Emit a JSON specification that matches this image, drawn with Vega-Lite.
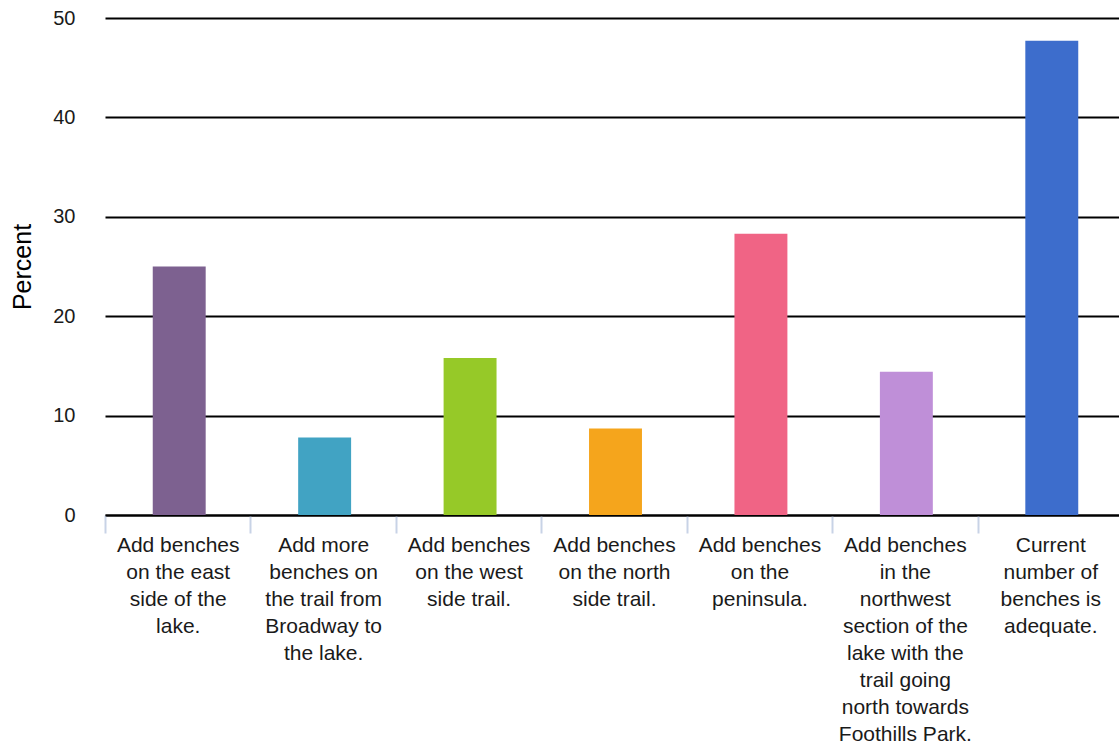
{
  "$schema": "https://vega.github.io/schema/vega-lite/v6.json",
  "width": 1018,
  "height": 497,
  "autosize": "none",
  "padding": {"left": 105, "top": 18, "right": 0, "bottom": 233},
  "background": "white",
  "config": {
    "view": {"stroke": null},
    "font": "Liberation Sans"
  },
  "data": {
    "values": [
      {"option": "Add benches|on the east|side of the|lake.", "percent": 25.0},
      {"option": "Add more|benches on|the trail from|Broadway to|the lake.", "percent": 7.8},
      {"option": "Add benches|on the west|side trail.", "percent": 15.8},
      {"option": "Add benches|on the north|side trail.", "percent": 8.7},
      {"option": "Add benches|on the|peninsula.", "percent": 28.3},
      {"option": "Add benches|in the|northwest|section of the|lake with the|trail going|north towards|Foothills Park.", "percent": 14.4},
      {"option": "Current|number of|benches is|adequate.", "percent": 47.7}
    ]
  },
  "mark": {"type": "bar", "width": {"band": 0.364}, "xOffset": 1.5},
  "encoding": {
    "x": {
      "field": "option",
      "type": "nominal",
      "sort": null,
      "scale": {"paddingInner": 0, "paddingOuter": 0},
      "axis": {
        "title": null,
        "labelAngle": 0,
        "labelExpr": "isValid(datum.value) ? split(datum.value, '|') : ''",
        "labelFont": "Liberation Sans",
        "labelFontSize": 21,
        "labelLineHeight": 27,
        "labelColor": "#1a1a1a",
        "labelPadding": 1,
        "labelLimit": 0,
        "tickBand": "extent",
        "tickSize": 18,
        "tickColor": "#c8d3e6",
        "tickWidth": 2,
        "domainColor": "#000000",
        "domainWidth": 2,
        "grid": false
      }
    },
    "y": {
      "field": "percent",
      "type": "quantitative",
      "scale": {"domain": [0, 50]},
      "axis": {
        "title": "Percent",
        "titleFont": "Liberation Sans",
        "titleFontSize": 25,
        "titleFontWeight": "normal",
        "titleColor": "#000000",
        "titlePadding": 17,
        "values": [0, 10, 20, 30, 40, 50],
        "labelFont": "Liberation Sans",
        "labelFontSize": 20,
        "labelColor": "#1a1a1a",
        "labelPadding": 30,
        "ticks": false,
        "domain": false,
        "grid": true,
        "gridColor": "#000000",
        "gridWidth": 2
      }
    },
    "color": {
      "field": "option",
      "type": "nominal",
      "sort": null,
      "legend": null,
      "scale": {
        "range": ["#7d6190", "#41a3c3", "#96c928", "#f5a51c", "#f06485", "#bf8fd8", "#3d6dcc"]
      }
    }
  }
}
